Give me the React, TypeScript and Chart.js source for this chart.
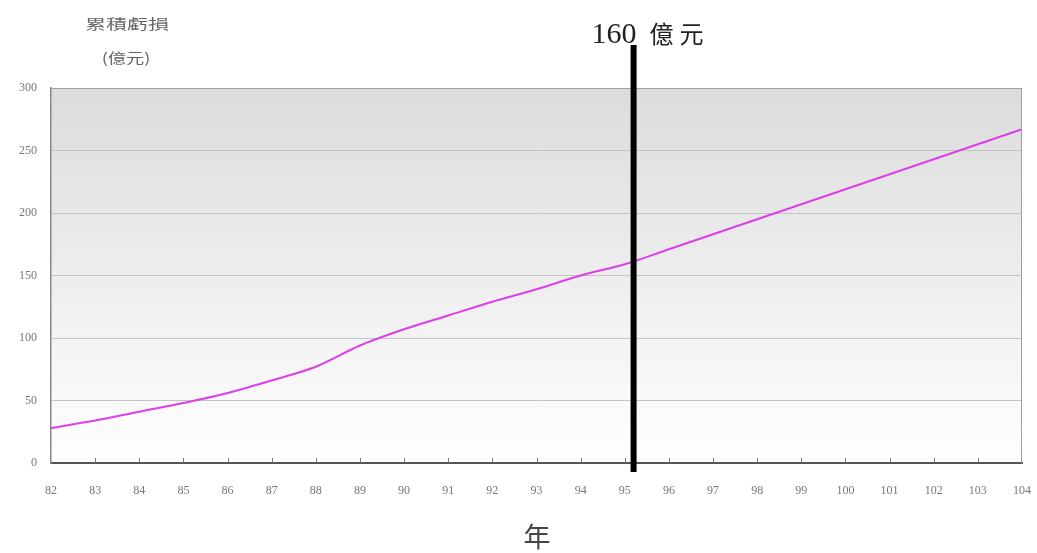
import React, { useEffect, useRef } from "react";
import { Chart, registerables } from "chart.js";

Chart.register(...registerables);

const years = ["82", "83", "84", "85", "86", "87", "88", "89", "90", "91", "92", "93", "94", "95", "96", "97", "98", "99", "100", "101", "102", "103", "104"];
const cumulativeLoss = [28, 34, 41, 48, 56, 66, 77, 94, 107, 118, 129, 139, 150, 159, 171, 183, 195, 207, 219, 231, 243, 255, 267];
const yTickValues = [0, 50, 100, 150, 200, 250, 300];
const markerYear = 95.2;
const markerValue = "160";
const markerUnit = "億元";
const yTitleLines = ["累積虧損", "(億元)"];
const xTitle = "年";

const W = 1037;
const H = 553;

export default function App() {
  const ref = useRef<HTMLCanvasElement | null>(null);

  useEffect(() => {
    const canvas = ref.current;
    if (!canvas) return;

    const bgPlugin = {
      id: "bgGradient",
      beforeDraw(chart: any) {
        const { ctx, chartArea: a } = chart;
        const g = ctx.createLinearGradient(0, a.top, 0, a.bottom);
        g.addColorStop(0, "#dcdcdc");
        g.addColorStop(1, "#ffffff");
        ctx.save();
        ctx.fillStyle = g;
        ctx.fillRect(a.left, a.top, a.right - a.left, a.bottom - a.top);
        ctx.restore();
      },
    };

    const overlayPlugin = {
      id: "overlay",
      afterDraw(chart: any) {
        const { ctx, chartArea: a, scales } = chart;
        const xs = scales.x;
        ctx.save();
        // plot frame (top/right)
        ctx.strokeStyle = "#a0a0a0";
        ctx.lineWidth = 1;
        ctx.beginPath();
        ctx.moveTo(a.left, a.top + 0.5);
        ctx.lineTo(a.right - 0.5, a.top + 0.5);
        ctx.lineTo(a.right - 0.5, a.bottom);
        ctx.stroke();
        // inner tick marks on x axis
        ctx.strokeStyle = "#777";
        ctx.beginPath();
        for (let i = 1; i < years.length - 1; i++) {
          const px = Math.round(xs.getPixelForTick(i)) + 0.5;
          ctx.moveTo(px, a.bottom);
          ctx.lineTo(px, a.bottom - 5);
        }
        ctx.stroke();
        // marker line
        const mx = xs.getPixelForValue(markerYear - Number(years[0]));
        ctx.fillStyle = "#000";
        ctx.fillRect(mx - 3, 45, 6, a.bottom + 9 - 45);
        ctx.textBaseline = "alphabetic";
        ctx.fillStyle = "#222";
        ctx.textAlign = "right";
        ctx.font = "30px 'Liberation Serif', serif";
        ctx.fillText(markerValue, mx + 3, 43);
        ctx.textAlign = "left";
        ctx.font = "24px 'Noto Sans CJK TC', serif";
        (ctx as any).letterSpacing = "6px";
        ctx.fillText(markerUnit, mx + 16, 43);
        (ctx as any).letterSpacing = "0px";
        // y title (horizontally stretched like the original)
        ctx.fillStyle = "#666";
        ctx.textAlign = "center";
        ctx.font = "14px 'Noto Sans CJK TC', serif";
        ctx.save();
        ctx.translate(127, 29);
        ctx.scale(1.5, 1);
        ctx.fillText(yTitleLines[0], 0, 0);
        ctx.restore();
        ctx.save();
        ctx.translate(126, 63);
        ctx.scale(1.3, 1);
        ctx.fillText(yTitleLines[1], 0, 0);
        ctx.restore();
        // x title
        ctx.font = "27px 'Noto Sans CJK TC', serif";
        ctx.fillStyle = "#444";
        ctx.fillText(xTitle, 537, 547);
        ctx.restore();
      },
    };

    const chart = new Chart(canvas, {
      type: "line",
      data: {
        labels: years,
        datasets: [
          {
            data: cumulativeLoss,
            borderColor: "#dc3ee8",
            borderWidth: 2,
            pointRadius: 0,
            tension: 0.3,
            fill: false,
          },
        ],
      },
      options: {
        animation: false,
        responsive: false,
        maintainAspectRatio: false,
        layout: { padding: { left: 0, top: 88, right: W - 1022, bottom: 0 } },
        plugins: {
          legend: { display: false },
          tooltip: { enabled: false },
          title: { display: false },
        },
        scales: {
          x: {
            type: "category",
            offset: false,
            grid: { display: false, drawTicks: false },
            border: { display: true, color: "#555", width: 2 },
            ticks: {
              autoSkip: false,
              maxRotation: 0,
              minRotation: 0,
              padding: 21,
              color: "#777",
              font: { family: "'Liberation Serif', serif", size: 12 },
            },
            afterFit(s: any) {
              s.height = H - 463;
              s.paddingLeft = 0;
              s.paddingRight = 0;
            },
          },
          y: {
            min: 0,
            max: 300,
            afterBuildTicks(s: any) {
              s.ticks = yTickValues.map((v) => ({ value: v }));
            },
            grid: { color: "#c4c4c4", drawTicks: false, lineWidth: 1 },
            border: { display: true, color: "#888", width: 1.5 },
            ticks: {
              padding: 14,
              color: "#777",
              font: { family: "'Liberation Serif', serif", size: 12 },
            },
            afterFit(s: any) {
              s.width = 51;
              s.paddingTop = 0;
              s.paddingBottom = 0;
            },
          },
        },
      },
      plugins: [bgPlugin, overlayPlugin],
    });

    return () => chart.destroy();
  }, []);

  return (
    <div style={{ position: "absolute", left: 0, top: 0, width: W, height: H, background: "#fff" }}>
      <canvas ref={ref} width={W} height={H} style={{ width: W, height: H, display: "block" }} />
    </div>
  );
}
